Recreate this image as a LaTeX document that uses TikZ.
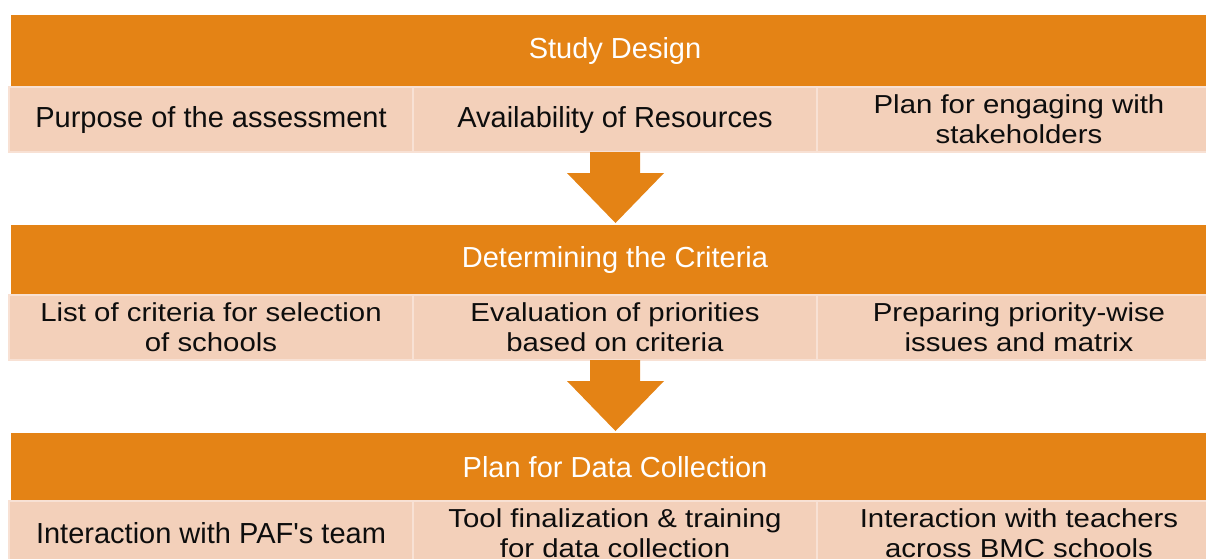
\documentclass[tikz,border=0pt]{standalone}
\usepackage{fontspec}
\setmainfont{Liberation Sans}
% wider cut used for the two-line cell labels
\newfontfamily\widesans{Liberation Sans}[FakeStretch=1.13]
\definecolor{barorange}{RGB}{228,131,21}
\definecolor{cellpeach}{RGB}{243,208,186}
\definecolor{celledge}{RGB}{248,225,212}
\begin{document}
\begin{tikzpicture}[x=1pt,y=-1pt,
  header/.style={rectangle,fill=barorange,inner sep=0pt,minimum width=1208pt,
    minimum height=72pt,text=white,font=\fontsize{29}{30}\selectfont},
  cell/.style={rectangle,fill=cellpeach,draw=celledge,line width=1.4pt,inner sep=0pt,
    minimum width=404pt,minimum height=65pt,text=black!95,align=center,
    font=\fontsize{29}{30}\selectfont},
  cell2/.style={cell,font=\widesans\fontsize{26}{30}\selectfont},
  flowarrow/.style={fill=barorange}]
\useasboundingbox (0,0) rectangle (1206,558);

% Stage 1
\node[header] (h1) at (615,51) {Study Design};
\node[cell] (c11) at (211,119.5) {Purpose of the assessment};
\node[cell] (c12) at (615,119.5) {Availability of Resources};
\node[cell2] (c13) at (1019,119.5) {Plan for engaging with\\stakeholders};

% Stage 2
\node[header,minimum height=71pt] (h2) at (615,260) {Determining the Criteria};
\node[cell2] (c21) at (211,327.5) {List of criteria for selection\\of schools};
\node[cell2] (c22) at (615,327.5) {Evaluation of priorities\\based on criteria};
\node[cell2] (c23) at (1019,327.5) {Preparing priority-wise\\issues and matrix};

% Stage 3
\node[header,minimum height=68pt] (h3) at (615,467) {Plan for Data Collection};
\node[cell] (c31) at (211,533.5) {Interaction with PAF\textquotesingle s team};
\node[cell2] (c32) at (615,533.5) {Tool finalization \& training\\for data collection};
\node[cell2] (c33) at (1019,533.5) {Interaction with teachers\\across BMC schools};

% Block arrows between the stages
\fill[flowarrow] (590,152) -- (640,152) -- (640,173) -- (664,173) -- (615.5,223)
  -- (567,173) -- (590,173) -- cycle;
\fill[flowarrow] (590,360) -- (640,360) -- (640,381) -- (664,381) -- (615.5,431)
  -- (567,381) -- (590,381) -- cycle;
\end{tikzpicture}
\end{document}
